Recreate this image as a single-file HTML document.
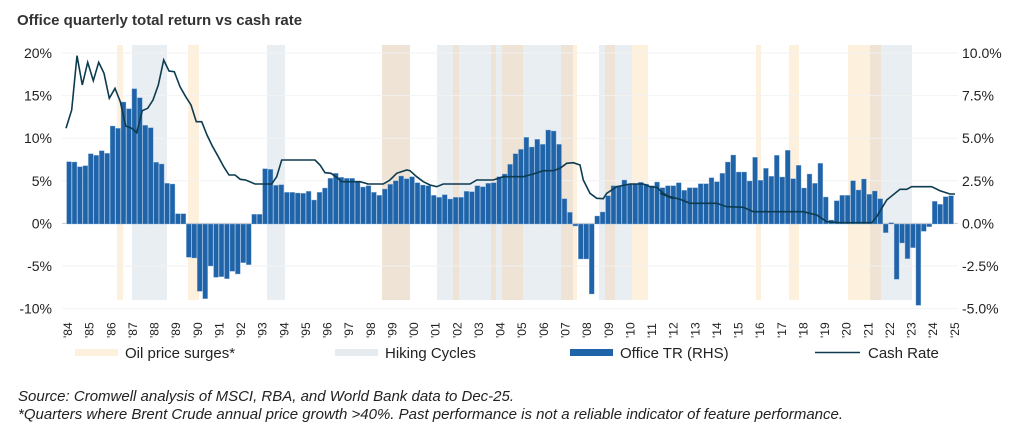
<!DOCTYPE html>
<html><head><meta charset="utf-8"><style>
body{margin:0;background:#fff;width:1024px;height:429px;overflow:hidden;font-family:"Liberation Sans",Arial,sans-serif}
</style></head><body>
<svg id="s" width="1024" height="429" xmlns="http://www.w3.org/2000/svg" font-family="Liberation Sans, Arial, sans-serif">
<text x="17" y="25" font-size="15" font-weight="bold" fill="#333">Office quarterly total return vs cash rate</text>
<g id="bands"></g>
<g id="grid"></g>
<g id="bars"></g>
<polyline id="line" fill="none" stroke="#0d3b4f" stroke-width="1.6" points=""/>
<g id="labels" font-size="14" fill="#222"></g>
<g font-size="15" fill="#222">
<rect x="75" y="349" width="43" height="7" fill="#fdf0dc"/><text x="125" y="358">Oil price surges*</text>
<rect x="335" y="349" width="43" height="7" fill="#e6ebef"/><text x="385" y="358">Hiking Cycles</text>
<rect x="570" y="349" width="43" height="7" fill="#1f63a8"/><text x="620" y="358">Office TR (RHS)</text>
<line x1="815" y1="352.5" x2="860" y2="352.5" stroke="#0d3b4f" stroke-width="1.6"/><text x="868" y="358">Cash Rate</text>
</g>
<g font-size="15" font-style="italic" fill="#222">
<text x="18" y="401">Source: Cromwell analysis of MSCI, RBA, and World Bank data to Dec-25.</text>
<text x="18" y="419">*Quarters where Brent Crude annual price growth &gt;40%. Past performance is not a reliable indicator of feature performance.</text>
</g>
</svg>
<script>
var NS="http://www.w3.org/2000/svg";
function el(p,t,a,txt){var e=document.createElementNS(NS,t);for(var k in a)e.setAttribute(k,a[k]);if(txt!==undefined)e.textContent=txt;document.getElementById(p).appendChild(e);return e;}
var bands=[[117,123,"#fdf0dc"],[132,167,"#e9eef2"],[188,199,"#fdf0dc"],[267,285,"#e9eef2"],[382,410,"#efe3d5"],[437,572,"#e9eef2"],[453,459,"#efe3d5"],[491,496,"#efe3d5"],[502,523,"#efe3d5"],[561,573,"#efe3d5"],[573,577,"#fdf0dc"],[599,632,"#e9eef2"],[605,615,"#efe3d5"],[632,648,"#fdf0dc"],[756,761,"#fdf0dc"],[789,799,"#fdf0dc"],[848,870,"#fdf0dc"],[870,881,"#efe3d5"],[881,912,"#e9eef2"]];
bands.forEach(function(b){el("bands","rect",{x:b[0],y:45,width:b[1]-b[0],height:255,fill:b[2]});});
for(var i=0;i<7;i++){var y=53+i*42.6;el("grid","line",{x1:62,x2:958,y1:y,y2:y,stroke:i==4?"#ccc":"#f2f2f2","stroke-width":1});}
var L=["20%","15%","10%","5%","0%","-5%","-10%"],R=["10.0%","7.5%","5.0%","2.5%","0.0%","-2.5%","-5.0%"];
for(var i=0;i<7;i++){var y=53+i*42.6+5;el("labels","text",{x:52,y:y,"text-anchor":"end"},L[i]);el("labels","text",{x:962,y:y},R[i]);}
for(var yr=84;yr<=125;yr++){var x=68+(yr-84)*21.63;var t="'"+String(yr%100).padStart(2,"0");el("labels","text",{x:0,y:0,"font-size":"12",transform:"translate("+(x+4)+",338) rotate(-90)"},t);}
var z=[365,366,380,377,341,346,332,340,258,265,186,206,146,173,256,263,367,372,430,432,521,521,
652,654,754,776,678,712,710,716,694,702,668,674,
523,523,386,388,436,434,457,457,459,460,454,480,457,444,415,400,412,415,415,424,
441,437,457,466,447,433,422,408,416,410,428,435,437,466,472,464,477,472,472,454,455,437,440,430,428,410,402,373,341,328,292,321,298,313,270,273,313,476,517,558,657,657,762,528,516,467,437,437,420,432,432,427,432,437,
426,443,437,437,428,451,443,443,431,431,413,425,400,366,345,396,396,423,352,421,385,409,346,411,331,416,376,444,402,430,370,471,540,482,466,466,422,450,417,463,453,476,578,548,718,609,656,623,796,574,560,484,493,470,467];
var n=z.length,sp=(951-69)/(n-1);
z.forEach(function(v,i){var y=v/3+40,x=69+i*sp-2.4;var y0=224;el("bars","rect",{x:x,y:Math.min(y,y0),width:4.9,height:Math.max(Math.abs(y0-y),0.8),fill:"#1f63a8",stroke:"#8fb3d9","stroke-width":0.4});});
var p1=[[33,265],[50,210],[66,47],[82,135],[98,67],[115,122],[131,67],[147,100],[163,175],[180,145],[196,185],[212,258],[230,265],[245,278],[262,212],[278,205],[294,180],[310,135],[326,60],[342,93],[358,95],[375,140],[392,170],[408,195],[424,245],[440,245],[456,285],[472,318],[490,350],[506,380],[522,405],[540,405],[556,418],[572,420],[600,432],[650,432],[665,410],[680,360],[780,360],[795,375],[810,398],[828,400],[845,412],[860,425],[915,425],[940,432]];
var p2=[[20,432],[70,432],[90,420],[110,400],[140,390],[150,392],[170,410],[190,425],[210,435],[230,440],[250,432],[330,432],[350,420],[400,420],[430,410],[490,410],[520,402],[550,392],[580,392],[600,385],[620,370],[640,368],[660,375],[670,420],[690,460],[710,475],[730,476],[740,460],[770,440],[810,432],[850,432],[870,440],[890,442],[910,460],[940,476]];
var p3=[[0,460],[30,470],[60,478],[90,490],[170,490],[200,500],[250,502],[280,515],[430,515],[470,525],[500,545],[540,548],[635,548],[650,530],[680,480],[720,448],[740,448],[755,440],[815,440],[840,452],[870,462],[885,462]];
var pts=[];function add(a,o){a.forEach(function(q){pts.push((q[0]/3+o).toFixed(1)+","+(q[1]/3+40).toFixed(1));});}
add(p1,55);add(p2,360);add(p3,660);
document.getElementById("line").setAttribute("points",pts.join(" "));
</script>
</body></html>
